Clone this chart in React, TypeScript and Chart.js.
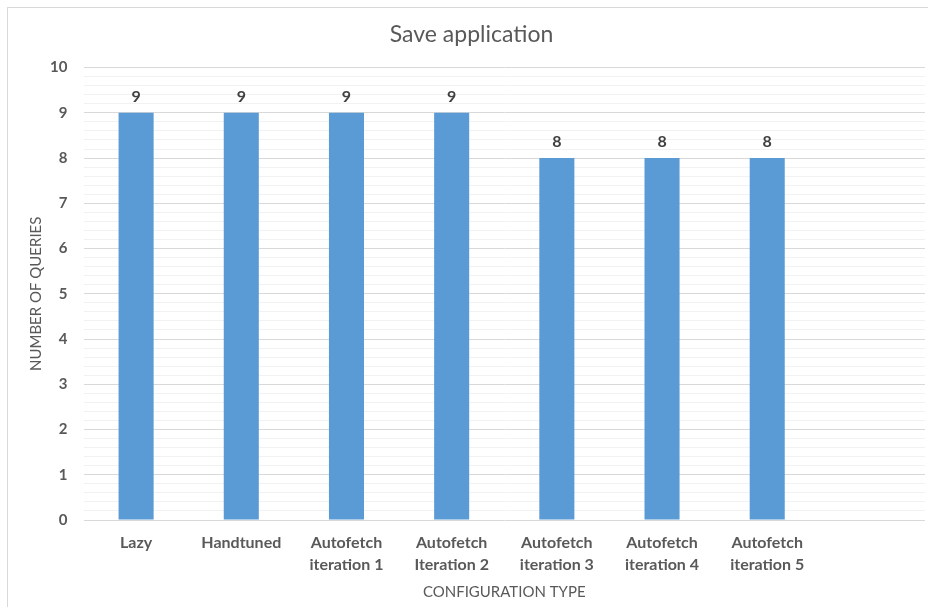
import React, { useEffect, useRef } from "react";
import { Chart, registerables } from "chart.js";

Chart.register(...registerables);

const chartTitle = "Save application";
const categories: (string | string[])[] = [
  "Lazy",
  "Handtuned",
  ["Autofetch", "iteration 1"],
  ["Autofetch", "Iteration 2"],
  ["Autofetch", "iteration 3"],
  ["Autofetch", "iteration 4"],
  ["Autofetch", "iteration 5"],
  "",
];
const queryCounts: (number | null)[] = [9, 9, 9, 9, 8, 8, 8, null];
const yAxisTitle = "NUMBER OF QUERIES";
const xAxisTitle = "CONFIGURATION TYPE";
const yMin = 0;
const yMax = 10;
const minorStep = 0.2;

const FONT = "Lato, 'Open Sans', sans-serif";
const TEXT = "#595959";

const isWhole = (v: number) => Math.abs(v - Math.round(v)) < 1e-6;

// Writes each bar's value above it
const valueLabels = {
  id: "valueLabels",
  afterDatasetsDraw(chart: any) {
    const { ctx } = chart;
    const meta = chart.getDatasetMeta(0);
    const data = chart.data.datasets[0].data as (number | null)[];
    ctx.save();
    ctx.font = `bold 16px ${FONT}`;
    ctx.fillStyle = "#404040";
    ctx.textAlign = "center";
    ctx.textBaseline = "middle";
    meta.data.forEach((bar: any, i: number) => {
      const v = data[i];
      if (v === null || v === undefined) return;
      ctx.fillText(String(v), bar.x, bar.y - 16);
    });
    ctx.restore();
  },
};

export default function App() {
  const canvasRef = useRef<HTMLCanvasElement | null>(null);

  useEffect(() => {
    if (!canvasRef.current) return;
    const chart = new Chart(canvasRef.current, {
      type: "bar",
      data: {
        labels: categories,
        datasets: [
          {
            data: queryCounts,
            backgroundColor: "#5B9BD5",
            barPercentage: 1 / 3,
            categoryPercentage: 1,
          },
        ],
      },
      options: {
        responsive: false,
        animation: false,
        layout: { padding: { left: 10, right: 14, top: 0, bottom: 0 } },
        plugins: {
          legend: { display: false },
          tooltip: { enabled: false },
          title: {
            display: true,
            text: chartTitle,
            color: TEXT,
            font: { family: FONT, size: 23, weight: "normal" },
            padding: { top: 13, bottom: 19 },
          },
        },
        scales: {
          x: {
            grid: { display: false, drawTicks: false },
            border: { display: false },
            ticks: {
              color: TEXT,
              font: { family: FONT, size: 16, weight: "bold", lineHeight: 1.38 },
              padding: 12,
              maxRotation: 0,
              autoSkip: false,
            },
            title: {
              display: true,
              text: xAxisTitle,
              color: TEXT,
              font: { family: FONT, size: 15, weight: "normal" },
              padding: { top: 0, bottom: 7 },
            },
            afterFit(scale: any) {
              scale.height = 88;
            },
          },
          y: {
            min: yMin,
            max: yMax,
            grid: {
              drawTicks: false,
              color: (c: any) => (isWhole(c.tick.value) ? "#d9d9d9" : "#f2f2f2"),
              lineWidth: 1,
            },
            border: { display: false },
            ticks: {
              stepSize: minorStep,
              autoSkip: false,
              color: TEXT,
              font: { family: FONT, size: 15, weight: "bold" },
              padding: 16,
              callback: (v: any) => (isWhole(Number(v)) ? String(Math.round(Number(v))) : ""),
            },
            title: {
              display: true,
              text: yAxisTitle,
              color: TEXT,
              font: { family: FONT, size: 15, weight: "normal" },
              padding: { top: 9, bottom: 0 },
            },
            afterFit(scale: any) {
              scale.width = 65.5;
            },
          },
        },
      },
      plugins: [valueLabels],
    });
    return () => chart.destroy();
  }, []);

  return (
    <div
      style={{
        position: "fixed",
        left: 0,
        top: 0,
        width: 928,
        height: 607,
        overflow: "hidden",
        background: "#ffffff",
      }}
    >
      <div
        style={{
          position: "absolute",
          left: 7,
          top: 7,
          width: 940,
          height: 620,
          borderLeft: "1px solid #d9d9d9",
          borderTop: "1px solid #d9d9d9",
        }}
      />
      <canvas
        ref={canvasRef}
        width={931}
        height={600}
        style={{ position: "absolute", left: 8, top: 8, width: 931, height: 600 }}
      />
    </div>
  );
}
